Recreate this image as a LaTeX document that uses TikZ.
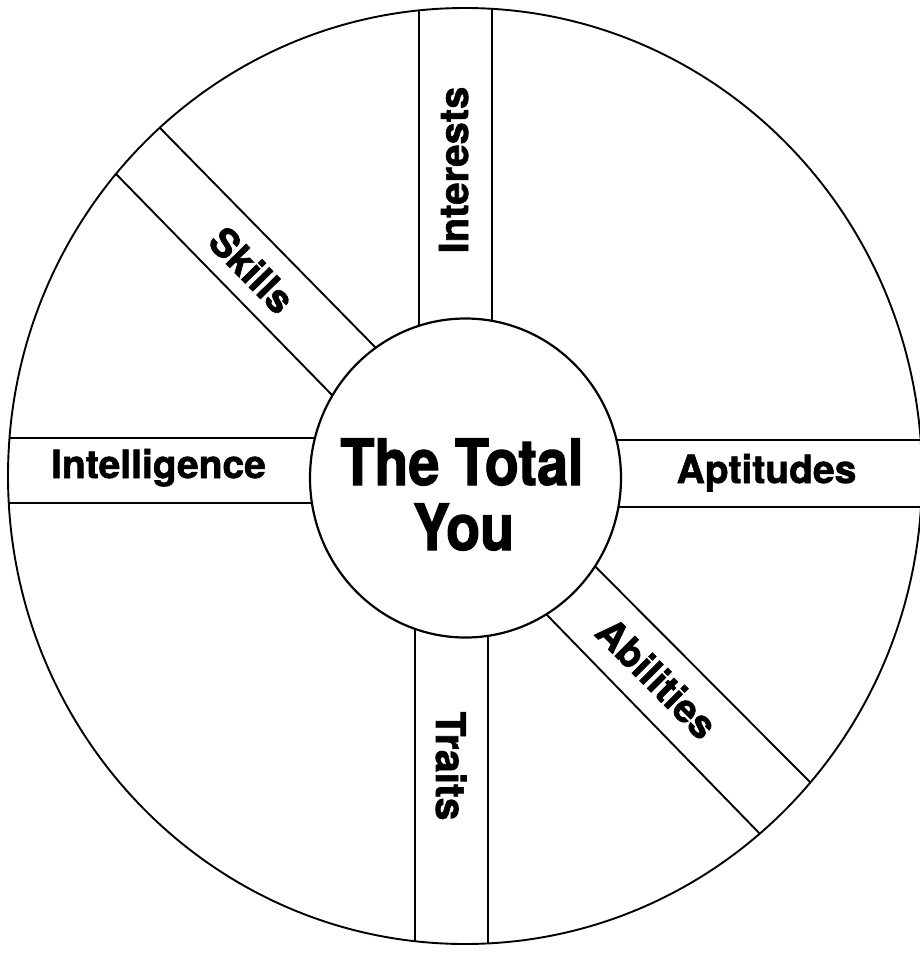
\documentclass[tikz,border=0pt]{standalone}
\usepackage{fontspec}
\setmainfont{TeX Gyre Heros}
\newfontfamily\labfont[FakeBold=1.6]{TeX Gyre Heros}
\newfontfamily\condfont[FakeStretch=0.87,FakeBold=1.8]{TeX Gyre Heros}
\usetikzlibrary{shapes.geometric}
\begin{document}
\begin{tikzpicture}[x=1pt,y=-1pt,
  ring/.style={line width=1.9pt},
  bandline/.style={line width=1.9pt},
  lab/.style={font=\labfont\bfseries\fontsize{#1}{#1}\selectfont, inner sep=0pt},
  centerlab/.style={font=\condfont\bfseries\fontsize{64}{65}\selectfont, inner sep=0pt}]
\useasboundingbox (0,0) rectangle (920,954);
% band lines, clipped to outer circle
\begin{scope}
  \clip (465,476) ellipse [x radius=457pt, y radius=468pt];
  % Interests
  \coordinate (i1a) at (419,0);   \coordinate (i1b) at (419,478);
  \coordinate (i2a) at (492,0);   \coordinate (i2b) at (492,478);
  \draw[bandline] (i1a) -- (i1b) (i2a) -- (i2b);
  % Traits
  \coordinate (t1a) at (415,478); \coordinate (t1b) at (415,954);
  \coordinate (t2a) at (488,478); \coordinate (t2b) at (488,954);
  \draw[bandline] (t1a) -- (t1b) (t2a) -- (t2b);
  % Intelligence
  \coordinate (g1a) at (0,438);   \coordinate (g1b) at (465,438);
  \coordinate (g2a) at (0,503);   \coordinate (g2b) at (465,503);
  \draw[bandline] (g1a) -- (g1b) (g2a) -- (g2b);
  % Aptitudes
  \coordinate (p1a) at (465,440); \coordinate (p1b) at (930,440);
  \coordinate (p2a) at (465,507); \coordinate (p2b) at (930,507);
  \draw[bandline] (p1a) -- (p1b) (p2a) -- (p2b);
  % Skills
  \coordinate (s1a) at (52.5,18.5); \coordinate (s1b) at (439.5,412.7);
  \coordinate (s2a) at (9.5,65);    \coordinate (s2b) at (396.5,461);
  \draw[bandline] (s1a) -- (s1b) (s2a) -- (s2b);
  % Abilities
  \coordinate (b1a) at (532,503);   \coordinate (b1b) at (921,893.5);
  \coordinate (b2a) at (483.5,549.7); \coordinate (b2b) at (870.5,947.5);
  \draw[bandline] (b1a) -- (b1b) (b2a) -- (b2b);
\end{scope}
% outer circle
\node[ring, draw, ellipse, minimum width=914pt, minimum height=936pt, inner sep=0pt] (outer) at (465,476) {};
% inner circle
\node[draw, line width=2.2pt, fill=white, ellipse, minimum width=311pt, minimum height=319pt, inner sep=0pt] (core) at (465.5,478) {};
% centre text
\node[centerlab, anchor=base] (total) at (462,485) {The Total};
\node[centerlab, anchor=base] (you) at (463.5,550) {You};
% labels
\node[lab=39, anchor=base] (intelligence) at (158.5,478) {Intelligence};
\node[lab=39, anchor=base] (aptitudes) at (766.5,483) {Aptitudes};
\node[lab=40, anchor=base, rotate=90] (interests) at (468,170) {Interests};
\node[lab=41, anchor=base, rotate=-90] (traits) at (436,766) {Traits};
\node[lab=39, rotate=-45.5] (skills) at (252,270) {Skills};
\node[lab=39, rotate=-45] (abilities) at (657,678) {Abilities};
\end{tikzpicture}
\end{document}
